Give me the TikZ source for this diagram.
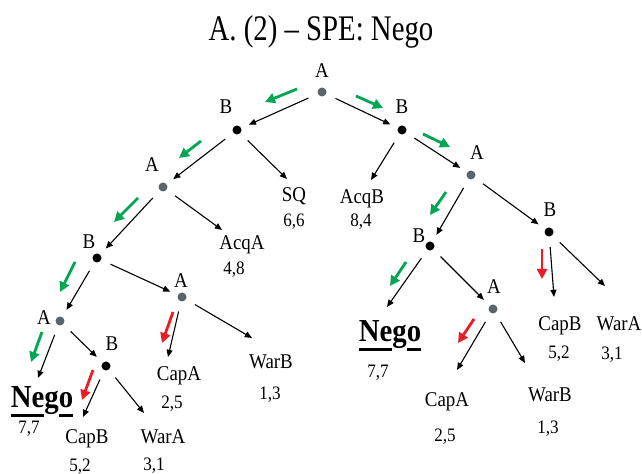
\documentclass[tikz,border=0pt]{standalone}
\usepackage{fontspec}
\setmainfont{Liberation Serif}[FakeStretch=0.9]
\newfontfamily\titlefont{Liberation Serif}[FakeStretch=0.8]
\usetikzlibrary{arrows.meta}

\definecolor{spegreen}{RGB}{0,166,81}
\definecolor{spered}{RGB}{237,28,36}
\definecolor{dotgray}{RGB}{90,100,106}

% thick underline, broken below descenders
\newcommand\negoline[1]{\setbox0\hbox{#1}\rlap{\rule[-4.5pt]{\wd0}{1.5pt}}\box0}

\tikzset{
  dot/.style={circle,fill=black,inner sep=0pt,minimum size=4.5pt},
  adot/.style={dot,fill=dotgray},
  pl/.style={font=\fontsize{10.5}{12}\selectfont,inner sep=0pt,text height=7pt,text depth=0pt},
  pay/.style={font=\fontsize{9.5}{11}\selectfont,inner sep=0pt,text height=6.4pt,text depth=0pt},
  nego/.style={font=\fontsize{16}{18}\selectfont\bfseries,inner sep=0pt,text height=10.6pt,text depth=0pt},
  edge/.style={-{Triangle[length=3.6pt,width=3pt]},line width=0.55pt,shorten <=5pt},
  spe/.style={-{Triangle[length=5pt,width=5pt]},line width=1.4pt},
}

\begin{document}
\begin{tikzpicture}[x=0.5pt,y=-0.5pt]
\useasboundingbox (0,0) rectangle (642,474);

\node[font=\titlefont\fontsize{18}{20}\selectfont,anchor=base] (title) at (321,41) {A. (2) – SPE: Nego};

% decision nodes
\node[adot] (r)  at (322,92)  {};
\node[dot]  (b1) at (237,130) {};
\node[dot]  (b2) at (402,130) {};
\node[adot] (a1) at (163,187) {};
\node[adot] (a2) at (471,175) {};
\node[dot]  (b3) at (97,258)  {};
\node[dot]  (b4) at (430,246) {};
\node[dot]  (b6) at (549,232) {};
\node[adot] (a3) at (60,321)  {};
\node[adot] (a4) at (182,297) {};
\node[adot] (a5) at (493,309) {};
\node[dot]  (b5) at (106,366) {};

% players
\node[pl] (r-l)  at (322,71)  {A};
\node[pl] (b1-l) at (226,107) {B};
\node[pl] (b2-l) at (402,107) {B};
\node[pl] (a1-l) at (152,165) {A};
\node[pl] (a2-l) at (477,153) {A};
\node[pl] (b3-l) at (89,242)  {B};
\node[pl] (b4-l) at (419,236) {B};
\node[pl] (b6-l) at (550,210) {B};
\node[pl] (a3-l) at (44,318)  {A};
\node[pl] (a4-l) at (181,281) {A};
\node[pl] (a5-l) at (494,287) {A};
\node[pl] (b5-l) at (112,344) {B};

% outcomes and payoffs
\node[pl]  (sq)      at (294,195) {SQ};
\node[pay] (sq-p)    at (294,220) {6,6};
\node[pl]  (acqa)    at (242,243) {AcqA};
\node[pay] (acqa-p)  at (234,268) {4,8};
\node[pl]  (acqb)    at (362,197) {AcqB};
\node[pay] (acqb-p)  at (361,220) {8,4};
\node[nego] (nego1)  at (42,397)  {\negoline{Ne}g\negoline{o}};
\node[pay] (nego1-p) at (29,427)  {7,7};
\node[pl]  (capb1)   at (87,437)  {CapB};
\node[pay] (capb1-p) at (80,465)  {5,2};
\node[pl]  (wara1)   at (163,437) {WarA};
\node[pay] (wara1-p) at (154,464) {3,1};
\node[pl]  (capa1)   at (179,374) {CapA};
\node[pay] (capa1-p) at (172,402) {2,5};
\node[pl]  (warb1)   at (271,362) {WarB};
\node[pay] (warb1-p) at (270,393) {1,3};
\node[nego] (nego2)  at (390,331) {\negoline{Ne}g\negoline{o}};
\node[pay] (nego2-p) at (378,371) {7,7};
\node[pl]  (capa2)   at (447,400) {CapA};
\node[pay] (capa2-p) at (445,435) {2,5};
\node[pl]  (warb2)   at (550,395) {WarB};
\node[pay] (warb2-p) at (548,427) {1,3};
\node[pl]  (capb2)   at (560,324) {CapB};
\node[pay] (capb2-p) at (559,352) {5,2};
\node[pl]  (wara2)   at (619,324) {WarA};
\node[pay] (wara2-p) at (612,353) {3,1};

% arrow ends above the outcomes
\coordinate (sq-t)    at (287,179);
\coordinate (acqa-t)  at (222,230);
\coordinate (acqb-t)  at (371,180);
\coordinate (nego1-t) at (38,378);
\coordinate (capb1-t) at (83,417);
\coordinate (wara1-t) at (144,413);
\coordinate (capa1-t) at (168,357);
\coordinate (warb1-t) at (252,338);
\coordinate (nego2-t) at (387,307);
\coordinate (capa2-t) at (457,370);
\coordinate (warb2-t) at (525,363);
\coordinate (capb2-t) at (554,297);
\coordinate (wara2-t) at (605,286);

% moves
\foreach \u/\v in {r/b1,r/b2,b1/a1,b2/a2,a1/b3,a2/b4,a2/b6,b3/a3,b3/a4,b4/a5,a3/b5}
  \draw[edge,shorten >=4pt] (\u) -- (\v);
\foreach \u/\v in {b1/sq,b2/acqb,a1/acqa,b4/nego2,b6/capb2,b6/wara2,a3/nego1,
                   a4/capa1,a4/warb1,b5/capb1,b5/wara1,a5/capa2,a5/warb2}
  \draw[edge] (\u) -- (\v-t);

% backward induction: chosen (green) and rejected (red) moves
\foreach \n/\sx/\sy/\dx/\dy in {r/-25/-3/-32/13, r/34/4/27/12, b2/21/4/27/13,
    b1/-36/11/-22/17, a1/-25/11/-24/24, b3/-22/4/-15/30, a3/-18/11/-11/30,
    a2/-25/17/-16/23, b4/-24/16/-16/24}
  \draw[spe,spegreen] ([shift={(\sx,\sy)}]\n.center) -- ++(\dx,\dy);
\foreach \n/\sx/\sy/\dx/\dy in {b5/-13/4/-11/30, a4/-9/15/-11/31,
    a5/-19/10/-16/24, b6/-7/17/0/30}
  \draw[spe,spered] ([shift={(\sx,\sy)}]\n.center) -- ++(\dx,\dy);
\end{tikzpicture}
\end{document}
